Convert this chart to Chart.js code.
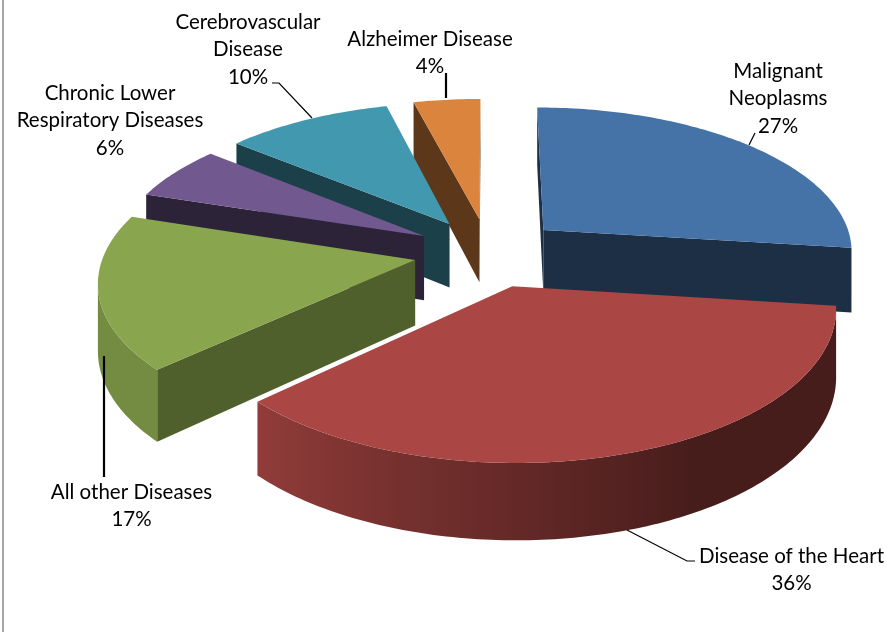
<!DOCTYPE html>
<html><head><meta charset="utf-8">
<style>html,body{margin:0;padding:0;background:#fff}canvas{display:block}</style>
<script src="https://cdn.jsdelivr.net/npm/chart.js@4"></script>
</head><body>
<canvas id="c" width="887" height="632" style="width:887px;height:632px"></canvas>
<script>
const categories = ["Malignant Neoplasms","Disease of the Heart","All other Diseases","Chronic Lower Respiratory Diseases","Cerebrovascular Disease","Alzheimer Disease"];
const values = [27,36,17,6,10,4];
const colors = ["#4573A7","#AA4643","#89A54E","#71588F","#4198AF","#DB843D"];
const wallShade = [0.41,0.6,0.58,0.4,0.42,0.42];

const labelLines = [["Malignant","Neoplasms"],["Disease of the Heart"],["All other Diseases"],["Chronic Lower","Respiratory Diseases"],["Cerebrovascular","Disease"],["Alzheimer Disease"]];
const labelAnchor = [[778,71],[791.5,556],[131.5,492],[110,93],[248,22],[430,39]];
const leaders = [
  {w:1.2,pts:[[755,133],[749,145]]},
  {w:1.2,pts:[[627,530],[687,561],[695,561]]},
  {w:2.2,pts:[[104,356],[104,477]]},
  {w:1.2,pts:[[272,83],[279,83],[312,118]]},
  {w:2.2,pts:[[446,73],[446,98]]}
];
const view = {cx:488.5, cy:252.5, ax:311, ay:144, persp:0.13, depth:65, explode:0.24};

function project(x,y,z){
  const w = 1/(1-view.persp*y);
  return [view.cx+view.ax*x*w, view.cy+view.ay*y*w-view.depth*z*w];
}
function shade(hex,f){
  const n=parseInt(hex.slice(1),16);
  return `rgb(${Math.round((n>>16&255)*f)},${Math.round((n>>8&255)*f)},${Math.round((n&255)*f)})`;
}
function outerShade(deg){
  // light from the left: the right-hand walls fall into shadow
  const t=Math.max(0,Math.min(1,(deg-150)/75));
  return 0.41+t*0.44;
}
function signedArea(pts){
  let area=0;
  for(let i=0;i<pts.length;i++){const a=pts[i],b=pts[(i+1)%pts.length];area+=a[0]*b[1]-b[0]*a[1];}
  return area;
}
function tracePoly(ctx,pts){
  ctx.beginPath();
  pts.forEach((p,i)=>i?ctx.lineTo(p[0],p[1]):ctx.moveTo(p[0],p[1]));
  ctx.closePath();
}
function fillPoly(ctx,pts,col){
  if(signedArea(pts)<=0) return;
  tracePoly(ctx,pts);
  ctx.fillStyle=col;ctx.fill();
}
const pie3d = {
  id:'pie3d',
  beforeDraw(chart){
    const c=chart.ctx;c.save();c.fillStyle='#fff';c.fillRect(0,0,887,632);
    c.fillStyle='#a6a6a6';c.fillRect(2,0,2,632);c.restore();
  },
  beforeDatasetsDraw(chart){
    const ctx=chart.ctx, arcs=chart.getDatasetMeta(0).data;
    const slices=arcs.map((a,i)=>{
      const t0=a.startAngle+Math.PI/2,t1=a.endAngle+Math.PI/2,m=(t0+t1)/2;
      return {i,t0,t1,ox:view.explode*Math.sin(m),oy:-view.explode*Math.cos(m)};
    }).sort((a,b)=>a.oy-b.oy);
    ctx.save();
    for(const s of slices){
      const col=colors[s.i];
      const pt=(t,z)=>project(s.ox+Math.sin(t),s.oy-Math.cos(t),z);
      const ap=z=>project(s.ox,s.oy,z);
      const wall=shade(col,wallShade[s.i]);
      // cut walls (back-facing ones are culled inside fillPoly)
      fillPoly(ctx,[pt(s.t0,0),ap(0),ap(-1),pt(s.t0,-1)],wall);
      fillPoly(ctx,[ap(0),pt(s.t1,0),pt(s.t1,-1),ap(-1)],wall);
      // curved outer wall: visible run of the rim filled as one shape with a sideways gradient
      const n=Math.max(8,Math.ceil((s.t1-s.t0)*180/Math.PI));
      const angle=k=>s.t0+(s.t1-s.t0)*k/n;
      const vis=[];
      for(let k=0;k<=n;k++){
        const prev=Math.max(0,k-1),next=Math.min(n,k+1);
        if(signedArea([pt(angle(prev),0),pt(angle(prev),-1),pt(angle(next),-1),pt(angle(next),0)])>0) vis.push(angle(k));
      }
      if(vis.length>1){
        const upper=vis.map(t=>pt(t,0)),lower=vis.map(t=>pt(t,-1));
        const xs=upper.concat(lower).map(p=>p[0]);
        const x0=Math.min(...xs),x1=Math.max(...xs);
        const grad=ctx.createLinearGradient(x0,0,x1,0);
        vis.forEach(t=>{
          const off=(pt(t,-0.5)[0]-x0)/(x1-x0);
          grad.addColorStop(Math.max(0,Math.min(1,off)),shade(col,outerShade(t*180/Math.PI)));
        });
        tracePoly(ctx,upper.concat(lower.reverse()));
        ctx.fillStyle=grad;ctx.fill();
      }
      // top face
      const top=[ap(0)];
      for(let k=0;k<=n;k++) top.push(pt(angle(k),0));
      tracePoly(ctx,top);
      ctx.fillStyle=col;ctx.fill();
    }
    ctx.restore();
    return false;
  },
  afterDraw(chart){
    const ctx=chart.ctx;
    ctx.save();
    ctx.strokeStyle='#000';
    for(const l of leaders){
      ctx.lineWidth=l.w;ctx.beginPath();
      l.pts.forEach((p,i)=>i?ctx.lineTo(p[0],p[1]):ctx.moveTo(p[0],p[1]));
      ctx.stroke();
    }
    ctx.fillStyle='#000';ctx.font='20.5px Lato';ctx.textAlign='center';ctx.textBaseline='middle';
    const total=values.reduce((a,b)=>a+b,0);
    categories.forEach((c,i)=>{
      const lines=labelLines[i].concat([Math.round(values[i]/total*100)+'%']);
      lines.forEach((t,k)=>ctx.fillText(t,labelAnchor[i][0],labelAnchor[i][1]+k*27.5));
    });
    ctx.restore();
  }
};
new Chart(document.getElementById('c'),{
  type:'pie',
  data:{labels:categories,datasets:[{data:values,backgroundColor:colors,borderWidth:0}]},
  options:{responsive:false,animation:false,devicePixelRatio:1,
    plugins:{legend:{display:false},tooltip:{enabled:false},title:{display:false}}},
  plugins:[pie3d]
});
</script>
</body></html>
